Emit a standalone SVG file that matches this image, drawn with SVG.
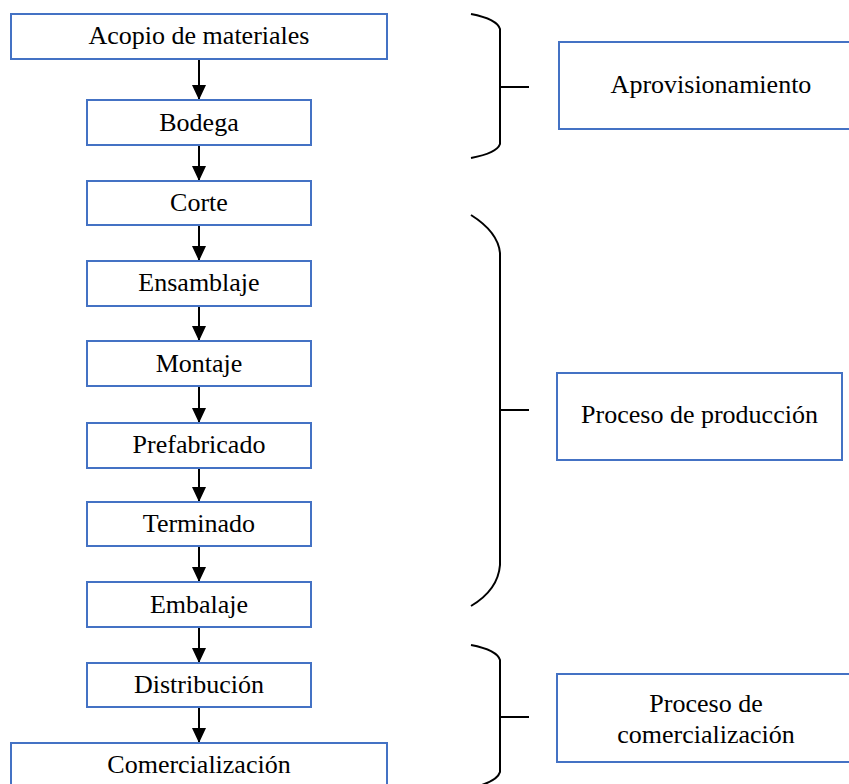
<svg xmlns="http://www.w3.org/2000/svg" width="849" height="784" viewBox="0 0 849 784">
<style>
.box{fill:#fff;stroke:#4472C4;stroke-width:2}
.t{font-family:"Liberation Serif","Times New Roman",serif;font-size:26px;fill:#000;text-anchor:middle}
.c{stroke:#000;stroke-width:2;fill:none}
.br{stroke:#000;stroke-width:2;fill:none}
</style>
<defs>
<marker id="ah" viewBox="0 0 15 14" refX="15" refY="7" markerWidth="15" markerHeight="14" markerUnits="userSpaceOnUse" orient="auto">
<path d="M0,0 L15,7 L0,14 z" fill="#000"/>
</marker>
</defs>
<rect width="849" height="784" fill="#fff"/>
<g id="connectors">
<line class="c" x1="199" y1="59" x2="199" y2="100" marker-end="url(#ah)"/>
<line class="c" x1="199" y1="145" x2="199" y2="181" marker-end="url(#ah)"/>
<line class="c" x1="199" y1="225" x2="199" y2="261" marker-end="url(#ah)"/>
<line class="c" x1="199" y1="306" x2="199" y2="341" marker-end="url(#ah)"/>
<line class="c" x1="199" y1="386" x2="199" y2="423" marker-end="url(#ah)"/>
<line class="c" x1="199" y1="468" x2="199" y2="502" marker-end="url(#ah)"/>
<line class="c" x1="199" y1="546" x2="199" y2="582" marker-end="url(#ah)"/>
<line class="c" x1="199" y1="627" x2="199" y2="663" marker-end="url(#ah)"/>
<line class="c" x1="199" y1="707" x2="199" y2="743" marker-end="url(#ah)"/>
</g>
<g id="n-acopio"><rect class="box" x="11" y="14" width="376" height="45"/><text class="t" x="199" y="44">Acopio de materiales</text></g>
<g id="n-bodega"><rect class="box" x="87" y="100" width="224" height="45"/><text class="t" x="199" y="130.5">Bodega</text></g>
<g id="n-corte"><rect class="box" x="87" y="181" width="224" height="44"/><text class="t" x="199" y="211">Corte</text></g>
<g id="n-ensamblaje"><rect class="box" x="87" y="261" width="224" height="45"/><text class="t" x="199" y="291">Ensamblaje</text></g>
<g id="n-montaje"><rect class="box" x="87" y="341" width="224" height="45"/><text class="t" x="199" y="371.5">Montaje</text></g>
<g id="n-prefabricado"><rect class="box" x="87" y="423" width="224" height="45"/><text class="t" x="199" y="453">Prefabricado</text></g>
<g id="n-terminado"><rect class="box" x="87" y="502" width="224" height="44"/><text class="t" x="199" y="532">Terminado</text></g>
<g id="n-embalaje"><rect class="box" x="87" y="582" width="224" height="45"/><text class="t" x="199" y="613">Embalaje</text></g>
<g id="n-distribucion"><rect class="box" x="87" y="663" width="224" height="44"/><text class="t" x="199" y="693">Distribución</text></g>
<g id="n-comercializacion"><rect class="box" x="11" y="743" width="376" height="50"/><text class="t" x="199" y="773">Comercialización</text></g>
<g id="braces">
<path class="br" d="M471,14 Q497,19 500,29 L500,144 Q497,153 471,158"/>
<line class="br" x1="500" y1="87" x2="529" y2="87"/>
<path class="br" d="M471,215 Q498,232 500,253 L500,565 Q498,590 471,606"/>
<line class="br" x1="500" y1="410" x2="529" y2="410"/>
<path class="br" d="M471,645 Q497,650 500,660 L500,772 Q497,782 471,788"/>
<line class="br" x1="500" y1="717" x2="529" y2="717"/>
</g>
<g id="n-aprovisionamiento"><rect class="box" x="559" y="42" width="304" height="87"/><text class="t" x="711" y="93">Aprovisionamiento</text></g>
<g id="n-produccion"><rect class="box" x="557" y="373" width="285" height="87"/><text class="t" x="699.5" y="423">Proceso de producción</text></g>
<g id="n-proc-comercializacion"><rect class="box" x="557" y="674" width="298" height="88"/><text class="t" x="706" y="712">Proceso de</text><text class="t" x="706" y="743">comercialización</text></g>
</svg>
